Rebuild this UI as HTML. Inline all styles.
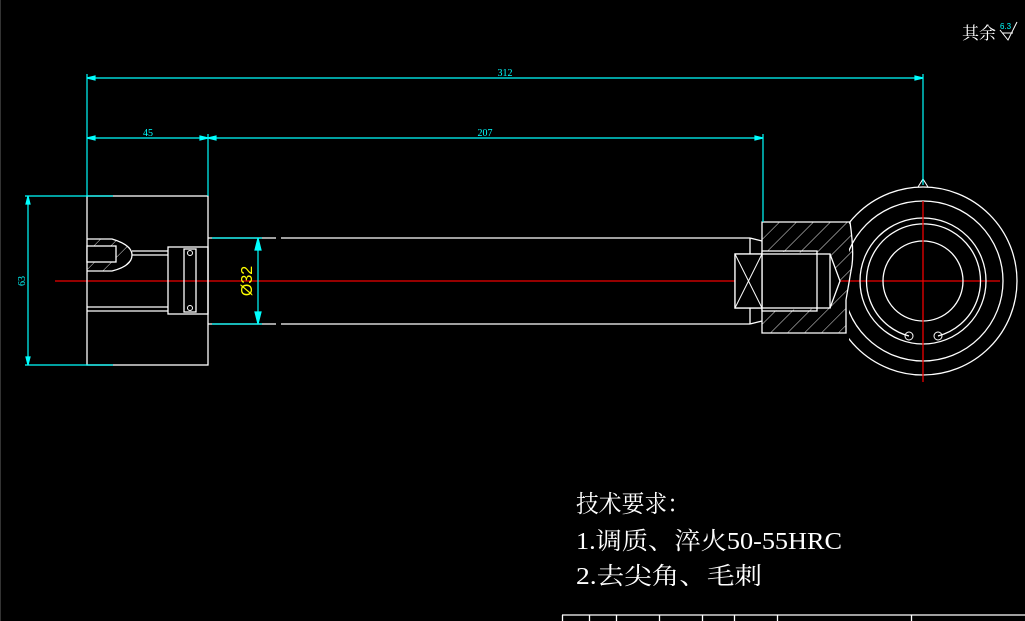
<!DOCTYPE html>
<html><head><meta charset="utf-8"><style>
html,body{margin:0;padding:0;background:#000;width:1025px;height:621px;overflow:hidden}
svg{display:block}
text{font-family:"Liberation Serif","Noto Serif CJK SC","Noto Sans CJK SC",serif}
</style></head><body>
<svg width="1025" height="621" viewBox="0 0 1025 621" xmlns="http://www.w3.org/2000/svg">
<defs>
<pattern id="h" width="12" height="12" patternUnits="userSpaceOnUse" patternTransform="rotate(45)">
<line x1="0" y1="0" x2="0" y2="12" stroke="#ddd" stroke-width="1"/>
</pattern>
<clipPath id="eye"><rect x="849" y="150" width="200" height="260"/></clipPath>
</defs>
<rect width="1025" height="621" fill="#000"/>
<line x1="0.5" y1="0" x2="0.5" y2="621" stroke="#333" stroke-width="1"/>

<line x1="55" y1="281" x2="1000" y2="281" stroke="#e00" stroke-width="1.3"/>

<g fill="none" stroke="#fff" stroke-width="1.3">
<rect x="87" y="196" width="121" height="169"/>
<path d="M87 239 L112 239 Q132 245 132 255 Q132 266 112 271 L87 271" fill="url(#h)"/>
<rect x="87" y="246" width="29" height="16" fill="#000"/>
<line x1="132" y1="251" x2="168" y2="251"/><line x1="132" y1="255" x2="168" y2="255"/>
<line x1="87" y1="307" x2="168" y2="307"/><line x1="87" y1="311" x2="168" y2="311"/>
<rect x="168" y="247" width="40" height="67"/>
<rect x="184" y="249" width="12" height="63"/>
<circle cx="190" cy="253" r="2.5" stroke-width="1"/><circle cx="190" cy="308" r="2.5" stroke-width="1"/>
<line x1="208" y1="238" x2="276" y2="238"/><line x1="281" y1="238" x2="750" y2="238"/>
<line x1="208" y1="324" x2="276" y2="324"/><line x1="281" y1="324" x2="750" y2="324"/>
<line x1="750" y1="238" x2="762" y2="241"/><line x1="750" y1="324" x2="762" y2="321"/>
<line x1="750" y1="238" x2="750" y2="254"/><line x1="750" y1="308" x2="750" y2="324"/>
<path d="M762 222 L850 222 Q854 250 852 265 L846 300 L846 333 L762 333 Z" fill="url(#h)"/>
<path d="M762 251 L830 254 L840 281 L830 308 L762 311 Z" fill="#000" stroke="none"/>
<rect x="762" y="251" width="55" height="60"/>
<rect x="735" y="254" width="95" height="54" fill="none"/>
<rect x="735" y="254" width="27" height="54" fill="#000"/>
<line x1="735" y1="254" x2="762" y2="308" stroke-width="1"/><line x1="735" y1="308" x2="762" y2="254" stroke-width="1"/>
<path d="M830 254 L840 281 L830 308"/>
<g clip-path="url(#eye)">
<circle cx="923" cy="281" r="94"/>
<circle cx="923" cy="281" r="80"/>
</g>
<circle cx="923" cy="281" r="63"/>
<path d="M909 336 A57 57 0 1 1 938 336"/>
<circle cx="909" cy="336" r="4" stroke-width="1"/><circle cx="938" cy="336" r="4" stroke-width="1"/>
<circle cx="923" cy="281" r="40"/>
<path d="M918 187 L923 179 L928 187 Z" stroke-width="1"/>
</g>
<line x1="923" y1="201" x2="923" y2="382" stroke="#e00" stroke-width="1.3"/>

<g stroke="#0ff" stroke-width="1.2" fill="#0ff">
<line x1="87" y1="74" x2="87" y2="196"/>
<line x1="923" y1="74" x2="923" y2="185"/>
<line x1="87" y1="78" x2="923" y2="78"/>
<line x1="208" y1="134" x2="208" y2="196"/>
<line x1="763" y1="134" x2="763" y2="222"/>
<line x1="87" y1="138" x2="763" y2="138"/>
<line x1="25" y1="196" x2="113" y2="196"/>
<line x1="25" y1="365" x2="113" y2="365"/>
<line x1="28" y1="196" x2="28" y2="365"/>
<line x1="212" y1="238" x2="262" y2="238"/>
<line x1="212" y1="324" x2="262" y2="324"/>
<line x1="258" y1="238" x2="258" y2="324"/>
<path d="M87 78 l8 -2 v4z M923 78 l-8 -2 v4z M87 138 l8 -2 v4z M208 138 l-8 -2 v4z M208 138 l8 -2 v4z M763 138 l-8 -2 v4z M28 196 l-2 8 h4z M28 365 l-2 -8 h4z M258 238 l-3 12 h6z M258 324 l-3 -12 h6z"/>
</g>
<g fill="#0ff" font-size="10" text-anchor="middle" style="font-family:'Liberation Sans',sans-serif">
<text x="505" y="76">312</text>
<text x="148" y="136">45</text>
<text x="485" y="136">207</text>
<text x="25" y="281" transform="rotate(-90 25 281)">63</text>
</g>
<text x="252" y="281" fill="#ff0" font-size="16" text-anchor="middle" transform="rotate(-90 252 281)" style="font-family:'Liberation Sans',sans-serif">Ø32</text>

<text x="962" y="39" fill="#fff" font-size="17">其余</text>
<text x="1000" y="29" fill="#0ff" font-size="8" style="font-family:'Liberation Sans',sans-serif">6.3</text>
<path d="M1000 30 L1008 40 L1017 22 M1002 33 L1013 33" stroke="#fff" fill="none" stroke-width="1"/>

<g fill="#fff" font-size="24">
<text x="576" y="512" textLength="114" lengthAdjust="spacingAndGlyphs">技术要求：</text>
<text x="576" y="549" textLength="266" lengthAdjust="spacingAndGlyphs">1.调质、淬火50-55HRC</text>
<text x="576" y="584" textLength="186" lengthAdjust="spacingAndGlyphs">2.去尖角、毛刺</text>
</g>

<g stroke="#fff" stroke-width="1.3" fill="none">
<line x1="562" y1="615" x2="1025" y2="615"/>
<line x1="562.5" y1="615" x2="562.5" y2="621"/><line x1="589.5" y1="615" x2="589.5" y2="621"/>
<line x1="616.5" y1="615" x2="616.5" y2="621"/><line x1="659.5" y1="615" x2="659.5" y2="621"/>
<line x1="702.5" y1="615" x2="702.5" y2="621"/><line x1="734.5" y1="615" x2="734.5" y2="621"/>
<line x1="777.5" y1="615" x2="777.5" y2="621"/><line x1="911.5" y1="615" x2="911.5" y2="621"/>
</g>
</svg>
</body></html>
